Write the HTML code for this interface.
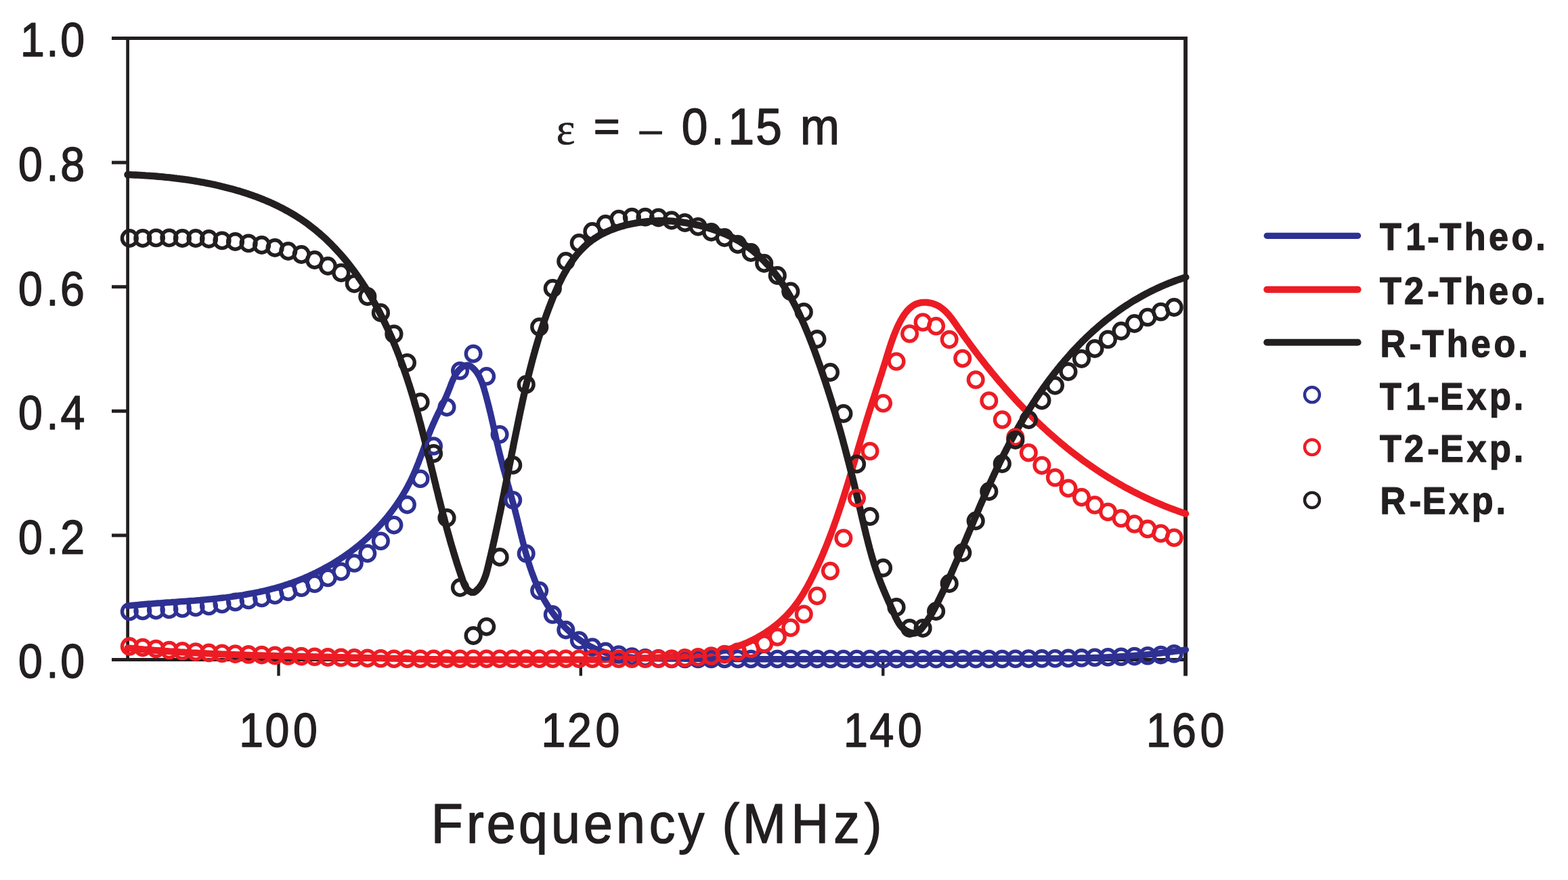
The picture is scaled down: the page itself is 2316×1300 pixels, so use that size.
<!DOCTYPE html>
<html lang="en">
<head>
<meta charset="utf-8">
<title>Frequency response</title>
<style>
html,body{margin:0;padding:0;background:#fff;}
body{width:2316px;height:1300px;overflow:hidden;}
svg{display:block;}
text{fill:#231f20;stroke:#231f20;stroke-linejoin:round;white-space:pre;text-rendering:geometricPrecision;}
.t{font-family:"Liberation Sans",sans-serif;}
.b{font-family:"Liberation Sans",sans-serif;font-weight:bold;}
.e{font-family:"Liberation Serif","DejaVu Serif",serif;}
</style>
</head>
<body>

<svg width="2316" height="1300" viewBox="0 0 2316 1300" role="img" aria-label="Transmission and reflection versus frequency">
<rect width="2316" height="1300" fill="#fff"/>
<g fill="none" stroke="#231f20" stroke-width="5.0"><path stroke-width="5" d="M165 56.5 H1753.8"/><path stroke-width="4.9" d="M165 974.5 H1753.8"/><path stroke-width="4.7" d="M188.6 54 V976.9"/><path stroke-width="5.9" d="M1751.1 54 V998.4"/><path d="M165 240.1 H188.5"/><path d="M165 423.7 H188.5"/><path d="M165 607.3 H188.5"/><path d="M165 790.9 H188.5"/><path stroke-width="4.4" d="M411.5 974.5 V998.4"/><path stroke-width="4.4" d="M857.8 974.5 V998.4"/><path stroke-width="4.4" d="M1304.3 974.5 V998.4"/></g>
<g fill="none" stroke-width="9.6" stroke-linecap="round" stroke-linejoin="round">
<path stroke="#2e3192" stroke-width="9.5" d="M188.4 895.0 L191.0 894.7 L193.6 894.5 L196.2 894.2 L198.8 893.9 L201.5 893.7 L204.1 893.5 L206.7 893.2 L209.4 893.0 L212.0 892.8 L214.7 892.5 L217.3 892.3 L220.0 892.1 L222.6 891.9 L225.3 891.7 L228.0 891.5 L230.7 891.3 L233.3 891.1 L236.0 890.9 L238.7 890.7 L241.4 890.5 L244.1 890.3 L246.8 890.1 L249.5 889.9 L252.2 889.8 L254.9 889.6 L257.6 889.4 L260.3 889.2 L263.1 889.0 L265.8 888.8 L268.5 888.6 L271.2 888.4 L273.9 888.2 L276.7 888.0 L279.4 887.8 L282.1 887.6 L284.8 887.4 L287.6 887.2 L290.3 886.9 L293.0 886.7 L295.8 886.5 L298.5 886.2 L301.2 886.0 L304.0 885.8 L306.7 885.5 L309.4 885.2 L312.1 885.0 L314.9 884.7 L317.6 884.4 L320.3 884.1 L323.0 883.8 L325.8 883.5 L328.5 883.2 L331.2 882.9 L333.9 882.6 L336.7 882.2 L339.4 881.9 L342.1 881.5 L344.8 881.1 L347.5 880.7 L350.2 880.3 L352.9 879.9 L355.6 879.5 L358.3 879.1 L361.0 878.6 L363.7 878.2 L366.4 877.7 L369.1 877.2 L371.7 876.7 L374.4 876.2 L377.1 875.7 L379.7 875.1 L382.4 874.6 L385.1 874.0 L387.7 873.4 L390.4 872.8 L393.0 872.2 L395.6 871.5 L398.3 870.9 L400.9 870.2 L403.5 869.5 L406.1 868.8 L408.7 868.1 L411.3 867.3 L413.9 866.6 L416.5 865.8 L419.1 865.0 L421.7 864.1 L424.2 863.3 L426.8 862.4 L429.4 861.6 L431.9 860.7 L434.4 859.7 L437.0 858.8 L439.5 857.8 L442.0 856.8 L444.5 855.8 L447.0 854.8 L449.5 853.8 L452.0 852.7 L454.5 851.7 L456.9 850.6 L459.4 849.4 L461.8 848.3 L464.2 847.1 L466.7 846.0 L469.1 844.8 L471.5 843.6 L473.9 842.3 L476.2 841.1 L478.6 839.8 L481.0 838.5 L483.3 837.2 L485.7 835.9 L488.0 834.6 L490.3 833.2 L492.6 831.8 L494.9 830.5 L497.2 829.0 L499.4 827.6 L501.7 826.2 L503.9 824.7 L506.2 823.2 L508.4 821.7 L510.6 820.2 L512.8 818.6 L514.9 817.1 L517.1 815.5 L519.3 813.9 L521.4 812.3 L523.5 810.7 L525.6 809.0 L527.7 807.4 L529.8 805.7 L531.8 804.0 L533.9 802.3 L535.9 800.5 L537.9 798.8 L539.9 797.0 L541.9 795.2 L543.9 793.4 L545.8 791.6 L547.8 789.8 L549.7 787.9 L551.6 786.0 L553.5 784.1 L555.3 782.2 L557.2 780.3 L559.0 778.4 L560.8 776.4 L562.6 774.5 L564.4 772.5 L566.2 770.5 L567.9 768.4 L569.7 766.4 L571.4 764.4 L573.1 762.3 L574.7 760.2 L576.4 758.1 L578.0 756.0 L579.6 753.8 L581.2 751.7 L582.8 749.5 L584.4 747.3 L585.9 745.1 L587.4 742.9 L588.9 740.7 L590.4 738.4 L591.8 736.2 L593.3 733.9 L594.7 731.6 L596.1 729.3 L597.4 727.0 L598.8 724.6 L600.1 722.3 L601.4 719.9 L602.7 717.5 L603.9 715.1 L605.2 712.7 L606.4 710.3 L607.6 707.8 L608.8 705.4 L609.9 702.9 L611.0 700.4 L612.1 697.9 L613.2 695.4 L614.3 692.8 L615.3 690.3 L616.3 687.7 L617.4 685.2 L618.4 682.6 L619.3 680.0 L620.3 677.5 L621.3 674.9 L622.3 672.3 L623.2 669.7 L624.2 667.1 L625.1 664.5 L626.1 661.9 L627.0 659.3 L627.9 656.7 L628.9 654.2 L629.8 651.6 L630.8 649.0 L631.8 646.4 L632.7 643.9 L633.7 641.3 L634.7 638.8 L635.7 636.3 L636.7 633.7 L637.8 631.2 L638.8 628.7 L639.9 626.3 L641.0 623.8 L642.1 621.4 L643.2 618.9 L644.3 616.5 L645.5 614.1 L646.6 611.7 L647.8 609.3 L649.0 606.9 L650.1 604.6 L651.3 602.2 L652.4 599.8 L653.6 597.4 L654.7 595.0 L655.9 592.7 L657.0 590.3 L658.1 587.9 L659.2 585.4 L660.2 583.0 L661.3 580.6 L662.3 578.1 L663.2 575.7 L664.2 573.2 L665.2 570.7 L666.1 568.1 L667.1 565.6 L668.2 563.0 L669.3 560.4 L670.6 557.9 L671.9 555.3 L673.3 552.8 L674.9 550.4 L676.6 548.2 L678.4 546.1 L680.4 544.1 L682.6 542.5 L685.0 541.0 L687.5 539.9 L690.1 539.4 L692.5 539.6 L694.8 540.7 L696.9 542.3 L698.9 544.0 L700.8 545.9 L702.5 547.8 L704.1 549.9 L705.5 552.1 L706.9 554.4 L708.2 556.7 L709.3 559.2 L710.5 561.7 L711.5 564.2 L712.5 566.8 L713.4 569.5 L714.2 572.1 L715.1 574.8 L715.8 577.5 L716.6 580.2 L717.4 582.9 L718.1 585.6 L718.8 588.2 L719.5 590.9 L720.2 593.6 L720.9 596.2 L721.6 598.9 L722.2 601.6 L722.9 604.2 L723.5 606.9 L724.2 609.5 L724.8 612.2 L725.4 614.8 L726.0 617.4 L726.6 620.1 L727.2 622.7 L727.8 625.3 L728.4 628.0 L729.0 630.6 L729.5 633.2 L730.1 635.8 L730.7 638.4 L731.3 641.0 L731.9 643.6 L732.4 646.3 L733.0 648.9 L733.6 651.5 L734.2 654.1 L734.8 656.7 L735.4 659.3 L736.0 661.9 L736.6 664.5 L737.3 667.1 L737.9 669.7 L738.5 672.3 L739.2 674.8 L739.8 677.4 L740.5 680.0 L741.2 682.6 L741.9 685.2 L742.5 687.8 L743.2 690.4 L743.9 693.0 L744.6 695.6 L745.4 698.2 L746.1 700.8 L746.8 703.4 L747.5 706.0 L748.2 708.6 L749.0 711.2 L749.7 713.8 L750.4 716.4 L751.1 719.0 L751.9 721.6 L752.6 724.2 L753.3 726.8 L754.1 729.4 L754.8 732.0 L755.5 734.6 L756.2 737.2 L756.9 739.8 L757.7 742.5 L758.4 745.1 L759.1 747.7 L759.8 750.3 L760.5 752.9 L761.1 755.6 L761.8 758.2 L762.5 760.8 L763.1 763.5 L763.8 766.1 L764.5 768.8 L765.1 771.4 L765.8 774.0 L766.4 776.7 L767.0 779.3 L767.7 782.0 L768.3 784.6 L769.0 787.3 L769.6 789.9 L770.3 792.5 L771.0 795.2 L771.6 797.8 L772.3 800.4 L773.0 803.1 L773.6 805.7 L774.3 808.3 L775.0 810.9 L775.7 813.6 L776.4 816.2 L777.2 818.8 L777.9 821.4 L778.7 824.0 L779.4 826.6 L780.2 829.2 L781.0 831.7 L781.8 834.3 L782.6 836.9 L783.5 839.4 L784.3 842.0 L785.2 844.5 L786.1 847.1 L787.1 849.6 L788.0 852.1 L789.0 854.6 L789.9 857.1 L791.0 859.6 L792.0 862.1 L793.1 864.6 L794.2 867.0 L795.3 869.5 L796.4 871.9 L797.6 874.4 L798.8 876.8 L800.0 879.2 L801.3 881.6 L802.6 883.9 L803.9 886.3 L805.3 888.7 L806.7 891.0 L808.1 893.3 L809.6 895.6 L811.1 897.9 L812.6 900.2 L814.2 902.4 L815.7 904.7 L817.4 906.9 L819.0 909.1 L820.7 911.2 L822.5 913.4 L824.2 915.5 L826.0 917.6 L827.8 919.7 L829.6 921.7 L831.5 923.7 L833.4 925.7 L835.3 927.6 L837.3 929.5 L839.3 931.4 L841.3 933.3 L843.3 935.1 L845.4 936.9 L847.5 938.6 L849.6 940.3 L851.7 942.0 L853.9 943.6 L856.0 945.1 L858.2 946.7 L860.5 948.2 L862.7 949.6 L865.0 951.0 L867.3 952.4 L869.6 953.7 L871.9 954.9 L874.3 956.1 L876.7 957.3 L879.1 958.4 L881.5 959.4 L883.9 960.4 L886.4 961.4 L888.8 962.3 L891.3 963.1 L893.8 963.9 L896.3 964.6 L898.9 965.4 L901.4 966.0 L904.0 966.6 L906.6 967.2 L909.2 967.8 L911.8 968.3 L914.4 968.7 L917.0 969.2 L919.6 969.6 L922.3 969.9 L924.9 970.3 L927.6 970.6 L930.3 970.9 L933.0 971.1 L935.7 971.4 L938.4 971.6 L941.1 971.8 L943.8 971.9 L946.5 972.1 L949.2 972.2 L952.0 972.3 L954.7 972.4 L957.5 972.5 L960.2 972.6 L962.9 972.6 L965.7 972.7 L968.4 972.7 L971.2 972.8 L973.9 972.8 L976.7 972.8 L979.4 972.9 L982.2 972.9 L984.9 972.9 L987.7 972.9 L990.4 973.0 L993.2 973.0 L995.9 973.0 L998.7 973.0 L1001.4 973.1 L1004.2 973.1 L1006.9 973.1 L1009.6 973.1 L1012.4 973.2 L1015.1 973.2 L1017.9 973.2 L1020.6 973.2 L1023.3 973.3 L1026.1 973.3 L1028.8 973.3 L1031.5 973.3 L1034.3 973.3 L1037.0 973.4 L1039.7 973.4 L1042.5 973.4 L1045.2 973.4 L1047.9 973.4 L1050.7 973.4 L1053.4 973.5 L1056.1 973.5 L1058.8 973.5 L1061.6 973.5 L1064.3 973.5 L1067.0 973.5 L1069.7 973.5 L1072.4 973.6 L1075.2 973.6 L1077.9 973.6 L1080.6 973.6 L1083.3 973.6 L1086.0 973.6 L1088.8 973.6 L1091.5 973.6 L1094.2 973.6 L1096.9 973.7 L1099.6 973.7 L1102.3 973.7 L1105.1 973.7 L1107.8 973.7 L1110.5 973.7 L1113.2 973.7 L1115.9 973.7 L1118.6 973.7 L1121.3 973.7 L1124.0 973.7 L1126.7 973.7 L1129.5 973.7 L1132.2 973.7 L1134.9 973.7 L1137.6 973.8 L1140.3 973.8 L1143.0 973.8 L1145.7 973.8 L1148.4 973.8 L1151.1 973.8 L1153.8 973.8 L1156.5 973.8 L1159.2 973.8 L1161.9 973.8 L1164.6 973.8 L1167.3 973.8 L1170.0 973.8 L1172.7 973.8 L1175.4 973.8 L1178.1 973.8 L1180.8 973.8 L1183.5 973.8 L1186.2 973.8 L1188.9 973.8 L1191.6 973.8 L1194.3 973.8 L1197.0 973.8 L1199.7 973.8 L1202.4 973.8 L1205.1 973.8 L1207.8 973.8 L1210.5 973.8 L1213.2 973.8 L1215.9 973.8 L1218.6 973.8 L1221.3 973.7 L1224.0 973.7 L1226.7 973.7 L1229.4 973.7 L1232.0 973.7 L1234.7 973.7 L1237.4 973.7 L1240.1 973.7 L1242.8 973.7 L1245.5 973.7 L1248.2 973.7 L1250.9 973.7 L1253.6 973.7 L1256.3 973.7 L1259.0 973.7 L1261.7 973.7 L1264.3 973.7 L1267.0 973.7 L1269.7 973.7 L1272.4 973.6 L1275.1 973.6 L1277.8 973.6 L1280.5 973.6 L1283.2 973.6 L1285.9 973.6 L1288.6 973.6 L1291.3 973.6 L1293.9 973.6 L1296.6 973.6 L1299.3 973.6 L1302.0 973.6 L1304.7 973.5 L1307.4 973.5 L1310.1 973.5 L1312.8 973.5 L1315.5 973.5 L1318.1 973.5 L1320.8 973.5 L1323.5 973.5 L1326.2 973.5 L1328.9 973.5 L1331.6 973.5 L1334.3 973.5 L1337.0 973.4 L1339.7 973.4 L1342.4 973.4 L1345.0 973.4 L1347.7 973.4 L1350.4 973.4 L1353.1 973.4 L1355.8 973.4 L1358.5 973.4 L1361.2 973.4 L1363.9 973.3 L1366.6 973.3 L1369.3 973.3 L1372.0 973.3 L1374.6 973.3 L1377.3 973.3 L1380.0 973.3 L1382.7 973.3 L1385.4 973.3 L1388.1 973.3 L1390.8 973.3 L1393.5 973.2 L1396.2 973.2 L1398.9 973.2 L1401.6 973.2 L1404.3 973.2 L1407.0 973.2 L1409.7 973.2 L1412.4 973.2 L1415.0 973.2 L1417.7 973.2 L1420.4 973.2 L1423.1 973.1 L1425.8 973.1 L1428.5 973.1 L1431.2 973.1 L1433.9 973.1 L1436.6 973.1 L1439.3 973.1 L1442.0 973.1 L1444.7 973.1 L1447.4 973.1 L1450.1 973.1 L1452.8 973.0 L1455.5 973.0 L1458.2 973.0 L1460.9 973.0 L1463.6 973.0 L1466.3 973.0 L1469.0 973.0 L1471.7 973.0 L1474.4 973.0 L1477.1 973.0 L1479.8 973.0 L1482.6 973.0 L1485.3 973.0 L1488.0 973.0 L1490.7 972.9 L1493.4 972.9 L1496.1 972.9 L1498.8 972.9 L1501.5 972.9 L1504.2 972.9 L1506.9 972.9 L1509.6 972.9 L1512.3 972.9 L1515.1 972.9 L1517.8 972.9 L1520.5 972.9 L1523.2 972.9 L1525.9 972.9 L1528.6 972.9 L1531.3 972.8 L1534.1 972.8 L1536.8 972.8 L1539.5 972.8 L1542.2 972.8 L1544.9 972.8 L1547.6 972.8 L1550.3 972.7 L1553.1 972.7 L1555.8 972.7 L1558.5 972.7 L1561.2 972.7 L1563.9 972.6 L1566.6 972.6 L1569.3 972.6 L1572.1 972.5 L1574.8 972.5 L1577.5 972.4 L1580.2 972.4 L1582.9 972.4 L1585.6 972.3 L1588.4 972.3 L1591.1 972.2 L1593.8 972.2 L1596.5 972.1 L1599.2 972.0 L1601.9 972.0 L1604.6 971.9 L1607.4 971.8 L1610.1 971.7 L1612.8 971.7 L1615.5 971.6 L1618.2 971.5 L1620.9 971.4 L1623.6 971.3 L1626.3 971.2 L1629.0 971.1 L1631.8 971.0 L1634.5 970.9 L1637.2 970.7 L1639.9 970.6 L1642.6 970.5 L1645.3 970.3 L1648.0 970.2 L1650.7 970.1 L1653.4 969.9 L1656.1 969.7 L1658.8 969.6 L1661.5 969.4 L1664.2 969.2 L1666.9 969.1 L1669.6 968.9 L1672.3 968.7 L1675.0 968.5 L1677.7 968.3 L1680.4 968.1 L1683.1 967.9 L1685.8 967.6 L1688.5 967.4 L1691.2 967.2 L1693.9 966.9 L1696.6 966.7 L1699.2 966.4 L1701.9 966.2 L1704.6 965.9 L1707.3 965.6 L1710.0 965.3 L1712.7 965.0 L1715.3 964.7 L1718.0 964.4 L1720.7 964.1 L1723.4 963.8 L1726.1 963.5 L1728.7 963.1 L1731.4 962.8 L1734.1 962.4 L1736.7 962.1 L1739.4 961.7 L1742.1 961.3 L1744.7 960.9 L1747.4 960.5 L1750.1 960.1 L1751.4 959.9"/>
<path stroke="#ed1c24" stroke-width="10" d="M188.4 957.3 L191.1 957.6 L193.8 957.8 L196.4 958.0 L199.1 958.3 L201.8 958.5 L204.5 958.8 L207.2 959.0 L209.8 959.2 L212.5 959.5 L215.2 959.7 L217.9 959.9 L220.6 960.1 L223.2 960.3 L225.9 960.5 L228.6 960.7 L231.3 960.9 L234.0 961.1 L236.6 961.3 L239.3 961.5 L242.0 961.7 L244.7 961.9 L247.3 962.1 L250.0 962.3 L252.7 962.4 L255.4 962.6 L258.1 962.8 L260.7 963.0 L263.4 963.1 L266.1 963.3 L268.8 963.4 L271.5 963.6 L274.1 963.8 L276.8 963.9 L279.5 964.1 L282.2 964.2 L284.9 964.4 L287.5 964.5 L290.2 964.6 L292.9 964.8 L295.6 964.9 L298.2 965.0 L300.9 965.2 L303.6 965.3 L306.3 965.4 L309.0 965.6 L311.6 965.7 L314.3 965.8 L317.0 965.9 L319.7 966.0 L322.4 966.1 L325.0 966.2 L327.7 966.4 L330.4 966.5 L333.1 966.6 L335.8 966.7 L338.4 966.8 L341.1 966.9 L343.8 967.0 L346.5 967.1 L349.1 967.2 L351.8 967.3 L354.5 967.3 L357.2 967.4 L359.9 967.5 L362.5 967.6 L365.2 967.7 L367.9 967.8 L370.6 967.9 L373.3 967.9 L375.9 968.0 L378.6 968.1 L381.3 968.2 L384.0 968.3 L386.7 968.3 L389.3 968.4 L392.0 968.5 L394.7 968.6 L397.4 968.6 L400.1 968.7 L402.7 968.8 L405.4 968.8 L408.1 968.9 L410.8 969.0 L413.5 969.0 L416.1 969.1 L418.8 969.2 L421.5 969.2 L424.2 969.3 L426.9 969.3 L429.5 969.4 L432.2 969.5 L434.9 969.5 L437.6 969.6 L440.3 969.6 L443.0 969.7 L445.6 969.8 L448.3 969.8 L451.0 969.9 L453.7 969.9 L456.4 970.0 L459.0 970.0 L461.7 970.1 L464.4 970.2 L467.1 970.2 L469.8 970.3 L472.5 970.3 L475.1 970.4 L477.8 970.4 L480.5 970.5 L483.2 970.5 L485.9 970.6 L488.6 970.7 L491.2 970.7 L493.9 970.8 L496.6 970.8 L499.3 970.9 L502.0 970.9 L504.7 971.0 L507.3 971.1 L510.0 971.1 L512.7 971.2 L515.4 971.2 L518.1 971.3 L520.8 971.4 L523.5 971.4 L526.1 971.5 L528.8 971.5 L531.5 971.6 L534.2 971.7 L536.9 971.7 L539.6 971.8 L542.3 971.9 L544.9 971.9 L547.6 972.0 L550.3 972.0 L553.0 972.1 L555.7 972.2 L558.4 972.2 L561.1 972.3 L563.7 972.3 L566.4 972.4 L569.1 972.5 L571.8 972.5 L574.5 972.6 L577.2 972.7 L579.9 972.7 L582.5 972.8 L585.2 972.8 L587.9 972.9 L590.6 973.0 L593.3 973.0 L596.0 973.1 L598.7 973.1 L601.4 973.2 L604.0 973.3 L606.7 973.3 L609.4 973.4 L612.1 973.4 L614.8 973.5 L617.5 973.6 L620.2 973.6 L622.9 973.7 L625.5 973.7 L628.2 973.8 L630.9 973.8 L633.6 973.9 L636.3 973.9 L639.0 974.0 L641.7 974.1 L644.4 974.1 L647.0 974.2 L649.7 974.2 L652.4 974.3 L655.1 974.3 L657.8 974.4 L660.5 974.4 L663.2 974.5 L665.9 974.5 L668.5 974.5 L671.2 974.5 L673.9 974.5 L676.6 974.5 L679.3 974.5 L682.0 974.5 L684.7 974.5 L687.4 974.5 L690.1 974.5 L692.7 974.5 L695.4 974.5 L698.1 974.5 L700.8 974.5 L703.5 974.5 L706.2 974.5 L708.9 974.5 L711.6 974.5 L714.2 974.5 L716.9 974.5 L719.6 974.5 L722.3 974.5 L725.0 974.5 L727.7 974.5 L730.4 974.5 L733.0 974.5 L735.7 974.5 L738.4 974.5 L741.1 974.5 L743.8 974.5 L746.5 974.5 L749.2 974.5 L751.9 974.5 L754.5 974.5 L757.2 974.5 L759.9 974.5 L762.6 974.5 L765.3 974.5 L768.0 974.5 L770.7 974.5 L773.3 974.5 L776.0 974.5 L778.7 974.5 L781.4 974.5 L784.1 974.5 L786.8 974.5 L789.5 974.5 L792.1 974.5 L794.8 974.5 L797.5 974.5 L800.2 974.5 L802.9 974.5 L805.6 974.5 L808.3 974.5 L810.9 974.5 L813.6 974.5 L816.3 974.5 L819.0 974.5 L821.7 974.5 L824.4 974.5 L827.0 974.5 L829.7 974.5 L832.4 974.5 L835.1 974.5 L837.8 974.5 L840.5 974.5 L843.1 974.5 L845.8 974.5 L848.5 974.5 L851.2 974.5 L853.9 974.5 L856.5 974.5 L859.2 974.5 L861.9 974.5 L864.6 974.5 L867.3 974.5 L870.0 974.5 L872.6 974.5 L875.3 974.5 L878.0 974.5 L880.7 974.5 L883.4 974.5 L886.0 974.5 L888.7 974.5 L891.4 974.5 L894.1 974.4 L896.8 974.3 L899.4 974.3 L902.1 974.2 L904.8 974.1 L907.5 974.0 L910.1 973.9 L912.8 973.8 L915.5 973.8 L918.2 973.7 L920.9 973.6 L923.5 973.5 L926.2 973.4 L928.9 973.3 L931.6 973.2 L934.2 973.1 L936.9 973.0 L939.6 972.9 L942.3 972.8 L944.9 972.6 L947.6 972.5 L950.3 972.4 L953.0 972.3 L955.6 972.2 L958.3 972.0 L961.0 971.9 L963.7 971.8 L966.3 971.6 L969.0 971.5 L971.7 971.4 L974.3 971.2 L977.0 971.1 L979.7 970.9 L982.4 970.8 L985.0 970.6 L987.7 970.5 L990.4 970.3 L993.0 970.2 L995.7 970.0 L998.4 969.8 L1001.1 969.7 L1003.7 969.5 L1006.4 969.3 L1009.1 969.1 L1011.7 968.9 L1014.4 968.8 L1017.1 968.5 L1019.7 968.3 L1022.4 968.1 L1025.0 967.9 L1027.7 967.6 L1030.4 967.3 L1033.0 967.1 L1035.7 966.8 L1038.3 966.4 L1041.0 966.1 L1043.6 965.8 L1046.2 965.4 L1048.9 965.0 L1051.5 964.5 L1054.1 964.1 L1056.7 963.6 L1059.4 963.1 L1062.0 962.6 L1064.6 962.0 L1067.2 961.4 L1069.8 960.8 L1072.4 960.2 L1075.0 959.5 L1077.6 958.8 L1080.1 958.0 L1082.7 957.2 L1085.3 956.4 L1087.8 955.5 L1090.4 954.6 L1092.9 953.7 L1095.4 952.7 L1098.0 951.7 L1100.5 950.6 L1103.0 949.6 L1105.4 948.4 L1107.9 947.3 L1110.4 946.1 L1112.8 944.9 L1115.2 943.6 L1117.6 942.4 L1120.0 941.0 L1122.4 939.7 L1124.7 938.3 L1127.1 936.9 L1129.4 935.4 L1131.7 934.0 L1133.9 932.5 L1136.2 930.9 L1138.4 929.3 L1140.6 927.7 L1142.7 926.1 L1144.9 924.4 L1147.0 922.8 L1149.1 921.0 L1151.1 919.3 L1153.2 917.5 L1155.2 915.7 L1157.1 913.8 L1159.1 912.0 L1161.0 910.1 L1162.8 908.2 L1164.7 906.2 L1166.5 904.2 L1168.2 902.2 L1170.0 900.2 L1171.7 898.1 L1173.3 896.0 L1174.9 893.9 L1176.5 891.8 L1178.1 889.7 L1179.6 887.5 L1181.1 885.3 L1182.6 883.1 L1184.0 880.8 L1185.4 878.6 L1186.8 876.3 L1188.2 874.0 L1189.5 871.7 L1190.9 869.4 L1192.2 867.1 L1193.5 864.7 L1194.7 862.4 L1196.0 860.0 L1197.2 857.7 L1198.4 855.3 L1199.6 852.9 L1200.8 850.5 L1202.0 848.1 L1203.1 845.7 L1204.3 843.3 L1205.4 840.9 L1206.6 838.5 L1207.7 836.0 L1208.8 833.6 L1209.9 831.2 L1211.0 828.7 L1212.1 826.3 L1213.2 823.8 L1214.2 821.4 L1215.3 818.9 L1216.3 816.4 L1217.3 814.0 L1218.4 811.5 L1219.4 809.0 L1220.4 806.5 L1221.4 804.1 L1222.4 801.6 L1223.3 799.1 L1224.3 796.6 L1225.3 794.1 L1226.2 791.6 L1227.2 789.1 L1228.1 786.5 L1229.1 784.0 L1230.0 781.5 L1230.9 779.0 L1231.8 776.5 L1232.7 773.9 L1233.6 771.4 L1234.5 768.9 L1235.4 766.3 L1236.3 763.8 L1237.1 761.3 L1238.0 758.7 L1238.9 756.2 L1239.7 753.6 L1240.6 751.1 L1241.4 748.5 L1242.3 745.9 L1243.1 743.4 L1243.9 740.8 L1244.8 738.3 L1245.6 735.7 L1246.4 733.1 L1247.2 730.6 L1248.0 728.0 L1248.8 725.4 L1249.6 722.9 L1250.4 720.3 L1251.2 717.7 L1252.0 715.1 L1252.8 712.6 L1253.6 710.0 L1254.4 707.4 L1255.1 704.8 L1255.9 702.2 L1256.7 699.7 L1257.5 697.1 L1258.2 694.5 L1259.0 691.9 L1259.8 689.3 L1260.5 686.7 L1261.3 684.2 L1262.1 681.6 L1262.8 679.0 L1263.6 676.4 L1264.3 673.8 L1265.1 671.2 L1265.9 668.7 L1266.6 666.1 L1267.4 663.5 L1268.1 660.9 L1268.9 658.3 L1269.7 655.8 L1270.4 653.2 L1271.2 650.6 L1272.0 648.0 L1272.7 645.4 L1273.5 642.9 L1274.3 640.3 L1275.0 637.7 L1275.8 635.2 L1276.6 632.6 L1277.3 630.0 L1278.1 627.5 L1278.9 624.9 L1279.7 622.3 L1280.4 619.8 L1281.2 617.2 L1282.0 614.7 L1282.8 612.1 L1283.6 609.6 L1284.4 607.0 L1285.2 604.5 L1286.0 601.9 L1286.8 599.4 L1287.6 596.8 L1288.4 594.3 L1289.2 591.7 L1290.0 589.2 L1290.9 586.7 L1291.7 584.1 L1292.5 581.6 L1293.3 579.1 L1294.1 576.5 L1294.9 574.0 L1295.8 571.4 L1296.6 568.9 L1297.4 566.4 L1298.2 563.8 L1299.0 561.3 L1299.8 558.8 L1300.6 556.2 L1301.5 553.7 L1302.3 551.2 L1303.1 548.6 L1303.9 546.1 L1304.7 543.5 L1305.5 541.0 L1306.3 538.5 L1307.1 535.9 L1307.9 533.4 L1308.7 530.8 L1309.4 528.3 L1310.2 525.7 L1311.0 523.2 L1311.8 520.6 L1312.6 518.0 L1313.4 515.5 L1314.2 512.9 L1315.1 510.3 L1315.9 507.7 L1316.8 505.2 L1317.7 502.6 L1318.7 500.0 L1319.6 497.4 L1320.6 494.8 L1321.7 492.1 L1322.7 489.5 L1323.9 486.9 L1325.0 484.2 L1326.2 481.6 L1327.5 479.0 L1328.8 476.3 L1330.2 473.7 L1331.6 471.2 L1333.1 468.7 L1334.7 466.2 L1336.3 463.9 L1338.0 461.6 L1339.7 459.5 L1341.6 457.5 L1343.5 455.6 L1345.5 453.9 L1347.5 452.3 L1349.7 450.9 L1351.9 449.7 L1354.2 448.7 L1356.6 447.9 L1359.1 447.3 L1361.6 446.9 L1364.2 446.7 L1366.7 446.7 L1369.3 446.8 L1371.9 447.2 L1374.5 447.6 L1377.0 448.3 L1379.5 449.1 L1381.9 450.0 L1384.3 451.1 L1386.6 452.3 L1388.8 453.7 L1390.9 455.2 L1392.9 456.8 L1394.9 458.5 L1396.8 460.2 L1398.6 462.1 L1400.4 464.1 L1402.1 466.1 L1403.8 468.2 L1405.5 470.3 L1407.1 472.5 L1408.7 474.7 L1410.3 477.0 L1411.9 479.2 L1413.4 481.5 L1415.0 483.8 L1416.6 486.0 L1418.2 488.3 L1419.8 490.5 L1421.3 492.8 L1422.9 495.0 L1424.5 497.2 L1426.1 499.5 L1427.7 501.7 L1429.4 503.9 L1431.0 506.1 L1432.6 508.4 L1434.2 510.6 L1435.9 512.8 L1437.5 515.0 L1439.1 517.2 L1440.8 519.3 L1442.4 521.5 L1444.1 523.7 L1445.7 525.9 L1447.4 528.0 L1449.1 530.2 L1450.8 532.3 L1452.4 534.5 L1454.1 536.6 L1455.8 538.8 L1457.5 540.9 L1459.2 543.0 L1460.9 545.1 L1462.6 547.2 L1464.3 549.4 L1466.0 551.5 L1467.8 553.6 L1469.5 555.6 L1471.2 557.7 L1473.0 559.8 L1474.7 561.9 L1476.5 563.9 L1478.2 566.0 L1480.0 568.0 L1481.8 570.1 L1483.5 572.1 L1485.3 574.2 L1487.1 576.2 L1488.9 578.2 L1490.7 580.2 L1492.5 582.2 L1494.3 584.2 L1496.1 586.2 L1497.9 588.2 L1499.7 590.2 L1501.5 592.1 L1503.4 594.1 L1505.2 596.1 L1507.1 598.0 L1508.9 599.9 L1510.8 601.9 L1512.6 603.8 L1514.5 605.7 L1516.4 607.6 L1518.2 609.5 L1520.1 611.4 L1522.0 613.3 L1523.9 615.2 L1525.8 617.1 L1527.7 619.0 L1529.6 620.8 L1531.5 622.7 L1533.5 624.5 L1535.4 626.4 L1537.3 628.2 L1539.3 630.0 L1541.2 631.8 L1543.2 633.6 L1545.2 635.4 L1547.1 637.2 L1549.1 639.0 L1551.1 640.8 L1553.1 642.5 L1555.1 644.3 L1557.1 646.0 L1559.1 647.8 L1561.1 649.5 L1563.1 651.2 L1565.1 652.9 L1567.1 654.7 L1569.2 656.3 L1571.2 658.0 L1573.3 659.7 L1575.3 661.4 L1577.4 663.1 L1579.5 664.7 L1581.5 666.4 L1583.6 668.0 L1585.7 669.6 L1587.8 671.2 L1589.9 672.8 L1592.0 674.4 L1594.2 676.0 L1596.3 677.6 L1598.4 679.2 L1600.5 680.8 L1602.7 682.3 L1604.8 683.8 L1607.0 685.4 L1609.2 686.9 L1611.3 688.4 L1613.5 689.9 L1615.7 691.4 L1617.9 692.9 L1620.1 694.4 L1622.3 695.9 L1624.5 697.3 L1626.7 698.8 L1629.0 700.2 L1631.2 701.6 L1633.4 703.1 L1635.7 704.5 L1638.0 705.9 L1640.2 707.2 L1642.5 708.6 L1644.8 710.0 L1647.1 711.3 L1649.4 712.7 L1651.7 714.0 L1654.0 715.4 L1656.3 716.7 L1658.6 718.0 L1660.9 719.3 L1663.3 720.6 L1665.6 721.8 L1668.0 723.1 L1670.3 724.3 L1672.7 725.6 L1675.1 726.8 L1677.5 728.0 L1679.9 729.2 L1682.3 730.4 L1684.7 731.6 L1687.1 732.8 L1689.5 734.0 L1691.9 735.1 L1694.4 736.3 L1696.8 737.4 L1699.3 738.5 L1701.8 739.6 L1704.2 740.7 L1706.7 741.8 L1709.2 742.9 L1711.7 743.9 L1714.2 745.0 L1716.7 746.0 L1719.2 747.1 L1721.7 748.1 L1724.3 749.1 L1726.8 750.1 L1729.4 751.1 L1731.9 752.0 L1734.5 753.0 L1737.1 753.9 L1739.7 754.9 L1742.3 755.8 L1744.9 756.7 L1747.5 757.6 L1750.1 758.5 L1751.4 758.9"/>
<path stroke="#231f20" stroke-width="10.3" d="M188.4 258.1 L192.2 258.2 L196.0 258.4 L199.9 258.5 L203.8 258.7 L207.7 258.9 L211.6 259.1 L215.5 259.4 L219.4 259.6 L223.3 259.9 L227.3 260.2 L231.3 260.5 L235.2 260.8 L239.2 261.2 L241.2 261.4 L243.2 261.6 L245.2 261.8 L247.2 262.0 L249.2 262.2 L251.2 262.4 L253.2 262.6 L255.2 262.8 L257.3 263.1 L259.3 263.3 L261.3 263.6 L263.3 263.8 L265.3 264.1 L267.3 264.3 L269.3 264.6 L271.4 264.9 L273.4 265.2 L275.4 265.4 L277.4 265.7 L279.4 266.0 L281.4 266.3 L283.5 266.7 L285.5 267.0 L287.5 267.3 L289.5 267.6 L291.5 268.0 L293.6 268.3 L295.6 268.7 L297.6 269.1 L299.6 269.4 L301.6 269.8 L303.6 270.2 L305.7 270.6 L307.7 271.0 L309.7 271.4 L311.7 271.8 L313.7 272.2 L315.7 272.6 L317.7 273.1 L319.7 273.5 L321.7 274.0 L323.7 274.4 L325.7 274.9 L327.7 275.4 L329.7 275.9 L331.7 276.4 L333.7 276.9 L335.7 277.4 L337.6 277.9 L339.6 278.4 L341.6 278.9 L343.6 279.5 L345.5 280.0 L347.5 280.6 L349.5 281.2 L351.4 281.7 L353.4 282.3 L355.3 282.9 L357.3 283.5 L359.2 284.1 L361.2 284.7 L363.1 285.4 L365.1 286.0 L367.0 286.6 L368.9 287.3 L370.8 288.0 L372.8 288.6 L374.7 289.3 L376.6 290.0 L378.5 290.7 L380.4 291.4 L382.3 292.2 L384.2 292.9 L386.0 293.6 L387.9 294.4 L389.8 295.1 L391.6 295.9 L393.5 296.7 L395.4 297.5 L397.2 298.3 L399.1 299.1 L400.9 299.9 L402.7 300.7 L404.5 301.6 L406.4 302.4 L408.2 303.3 L410.0 304.2 L411.8 305.1 L413.6 305.9 L415.4 306.9 L418.9 308.7 L422.4 310.6 L425.9 312.5 L429.4 314.5 L432.8 316.5 L436.2 318.5 L439.5 320.7 L442.9 322.8 L446.2 325.0 L449.4 327.2 L452.7 329.5 L455.8 331.9 L459.0 334.3 L462.1 336.7 L465.2 339.1 L468.2 341.7 L471.3 344.2 L474.2 346.8 L477.2 349.4 L480.1 352.1 L483.0 354.8 L485.8 357.6 L488.7 360.4 L491.4 363.2 L494.2 366.1 L496.9 369.0 L499.6 371.9 L502.3 374.8 L504.9 377.8 L507.5 380.9 L510.0 383.9 L512.6 387.0 L515.1 390.2 L516.3 391.7 L517.5 393.3 L518.8 394.9 L520.0 396.5 L521.2 398.1 L522.4 399.7 L523.6 401.3 L524.8 403.0 L525.9 404.6 L527.1 406.2 L528.3 407.9 L529.4 409.5 L530.6 411.2 L531.7 412.8 L532.8 414.5 L534.0 416.2 L535.1 417.9 L536.2 419.5 L537.3 421.2 L538.4 422.9 L539.5 424.6 L540.6 426.3 L541.6 428.1 L542.7 429.8 L543.8 431.5 L544.8 433.2 L545.9 435.0 L546.9 436.7 L547.9 438.5 L549.0 440.2 L550.0 442.0 L551.0 443.7 L552.0 445.5 L553.0 447.3 L554.0 449.0 L555.0 450.8 L555.9 452.6 L556.9 454.4 L557.9 456.2 L558.8 458.0 L559.8 459.8 L560.7 461.6 L561.6 463.4 L562.6 465.2 L563.5 467.0 L564.4 468.8 L565.3 470.6 L566.2 472.4 L567.1 474.3 L568.0 476.1 L568.9 477.9 L569.8 479.8 L570.6 481.6 L571.5 483.4 L572.4 485.3 L573.2 487.1 L574.0 489.0 L574.9 490.8 L575.7 492.7 L576.5 494.5 L577.4 496.4 L578.2 498.3 L579.0 500.1 L579.8 502.0 L580.6 503.8 L581.4 505.7 L582.1 507.6 L582.9 509.4 L583.7 511.3 L584.4 513.2 L585.2 515.1 L586.0 516.9 L586.7 518.8 L587.4 520.7 L588.2 522.6 L588.9 524.4 L589.6 526.3 L590.3 528.2 L591.0 530.1 L591.7 532.0 L592.4 533.9 L593.1 535.7 L593.8 537.6 L594.5 539.5 L595.2 541.4 L595.9 543.3 L596.5 545.2 L597.2 547.1 L597.9 549.0 L598.5 550.9 L599.2 552.8 L599.8 554.6 L600.4 556.5 L601.1 558.4 L601.7 560.3 L602.9 564.1 L604.2 567.9 L605.4 571.8 L606.6 575.6 L607.8 579.4 L608.9 583.2 L610.1 587.0 L611.2 590.8 L612.3 594.7 L613.4 598.5 L614.5 602.3 L615.6 606.2 L616.7 610.0 L617.8 613.9 L618.8 617.7 L619.8 621.6 L620.9 625.4 L621.9 629.3 L622.9 633.2 L623.9 637.0 L624.9 640.9 L625.9 644.8 L626.4 646.7 L626.9 648.7 L627.4 650.6 L627.9 652.5 L628.4 654.5 L628.8 656.4 L629.3 658.4 L629.8 660.3 L630.3 662.3 L630.8 664.2 L631.3 666.1 L631.7 668.1 L632.2 670.0 L632.7 672.0 L633.2 673.9 L633.7 675.9 L634.1 677.8 L634.6 679.8 L635.1 681.7 L635.6 683.7 L636.0 685.6 L636.5 687.6 L637.0 689.6 L637.5 691.5 L637.9 693.5 L638.4 695.4 L638.9 697.4 L639.4 699.3 L639.8 701.3 L640.3 703.3 L640.8 705.2 L641.3 707.2 L641.7 709.1 L642.2 711.1 L642.7 713.1 L643.2 715.0 L643.7 717.0 L644.1 718.9 L644.6 720.9 L645.1 722.9 L645.6 724.8 L646.1 726.8 L646.6 728.8 L647.1 730.7 L647.5 732.7 L648.0 734.7 L648.5 736.7 L649.0 738.6 L649.5 740.6 L650.0 742.6 L650.5 744.5 L651.0 746.5 L651.5 748.5 L652.0 750.4 L652.5 752.4 L653.0 754.4 L653.5 756.3 L654.0 758.3 L654.5 760.3 L655.1 762.2 L655.6 764.2 L656.1 766.1 L656.6 768.1 L657.1 770.0 L657.6 772.0 L658.1 773.9 L658.7 775.9 L659.2 777.8 L659.7 779.8 L660.2 781.7 L660.8 783.6 L661.8 787.5 L662.9 791.3 L664.0 795.1 L665.0 798.9 L666.1 802.7 L667.2 806.4 L668.3 810.1 L669.4 813.8 L670.5 817.5 L671.6 821.2 L672.8 824.9 L673.9 828.6 L675.1 832.3 L676.3 836.0 L677.5 839.8 L678.2 841.7 L678.8 843.6 L679.5 845.6 L680.1 847.5 L680.8 849.5 L681.5 851.5 L682.2 853.5 L682.9 855.6 L683.6 857.7 L684.3 859.7 L685.1 861.8 L686.0 863.8 L686.9 865.7 L687.9 867.6 L689.1 869.3 L690.3 870.9 L693.3 873.5 L696.7 875.2 L700.3 874.9 L703.5 872.7 L706.3 870.0 L708.8 867.0 L711.0 863.9 L713.0 860.5 L714.7 857.0 L716.1 853.4 L717.5 849.6 L718.1 847.7 L718.6 845.7 L719.2 843.8 L719.7 841.8 L720.2 839.8 L720.7 837.8 L721.2 835.8 L721.7 833.8 L722.2 831.8 L722.6 829.8 L723.1 827.8 L723.6 825.8 L724.0 823.9 L724.5 821.9 L725.0 819.9 L725.4 817.9 L725.9 815.9 L726.3 813.9 L726.8 811.9 L727.3 809.9 L727.7 807.9 L728.1 805.9 L728.6 803.9 L729.0 802.0 L729.5 800.0 L729.9 798.0 L730.4 796.0 L730.8 794.0 L731.2 792.0 L731.7 790.0 L732.1 788.1 L732.5 786.1 L732.9 784.1 L733.4 782.1 L733.8 780.1 L734.2 778.2 L734.6 776.2 L735.1 774.2 L735.5 772.2 L735.9 770.2 L736.3 768.3 L736.7 766.3 L737.1 764.3 L737.5 762.3 L738.0 760.3 L738.4 758.4 L738.8 756.4 L739.2 754.4 L739.6 752.4 L740.0 750.5 L740.4 748.5 L740.8 746.5 L741.2 744.5 L741.6 742.6 L742.0 740.6 L742.4 738.6 L742.8 736.7 L743.2 734.7 L743.6 732.7 L744.0 730.7 L744.4 728.8 L744.8 726.8 L745.1 724.8 L745.5 722.9 L745.9 720.9 L746.3 718.9 L746.7 717.0 L747.1 715.0 L747.5 713.0 L747.9 711.1 L748.3 709.1 L748.7 707.1 L749.0 705.2 L749.4 703.2 L749.8 701.2 L750.2 699.3 L750.6 697.3 L751.0 695.3 L751.4 693.4 L751.8 691.4 L752.1 689.4 L752.5 687.5 L752.9 685.5 L753.3 683.6 L753.7 681.6 L754.5 677.7 L755.2 673.7 L756.0 669.8 L756.8 665.9 L757.6 662.0 L758.3 658.1 L759.1 654.1 L759.9 650.2 L760.7 646.3 L761.5 642.4 L762.3 638.5 L763.1 634.6 L763.9 630.7 L764.7 626.7 L765.5 622.8 L766.3 618.9 L767.1 615.0 L767.9 611.1 L768.7 607.2 L769.6 603.3 L770.4 599.4 L771.3 595.4 L772.1 591.5 L772.5 589.6 L773.0 587.6 L773.4 585.7 L773.8 583.7 L774.3 581.8 L774.7 579.8 L775.1 577.9 L775.6 575.9 L776.0 574.0 L776.5 572.0 L776.9 570.1 L777.4 568.1 L777.9 566.2 L778.3 564.2 L778.8 562.3 L779.2 560.3 L779.7 558.4 L780.2 556.4 L780.7 554.5 L781.1 552.5 L781.6 550.6 L782.1 548.6 L782.6 546.7 L783.1 544.8 L783.6 542.8 L784.1 540.9 L784.6 538.9 L785.1 537.0 L785.6 535.0 L786.1 533.1 L786.6 531.2 L787.1 529.2 L787.7 527.3 L788.2 525.4 L788.7 523.4 L789.3 521.5 L789.8 519.6 L790.3 517.6 L790.9 515.7 L791.4 513.8 L792.0 511.8 L792.6 509.9 L793.1 508.0 L793.7 506.0 L794.3 504.1 L794.8 502.2 L795.4 500.3 L796.0 498.3 L796.6 496.4 L797.2 494.5 L797.8 492.6 L798.4 490.6 L799.0 488.7 L799.7 486.8 L800.3 484.9 L800.9 483.0 L801.6 481.1 L802.2 479.1 L802.8 477.2 L803.5 475.3 L804.2 473.4 L804.8 471.5 L805.5 469.6 L806.2 467.7 L806.8 465.8 L807.5 463.9 L808.2 462.0 L808.9 460.1 L809.6 458.2 L810.3 456.3 L811.0 454.4 L811.8 452.5 L812.5 450.6 L813.2 448.7 L814.0 446.8 L814.7 444.9 L815.5 443.0 L816.2 441.1 L817.0 439.2 L817.8 437.3 L818.6 435.5 L819.4 433.6 L820.2 431.7 L821.0 429.8 L821.8 428.0 L822.6 426.1 L823.5 424.2 L824.3 422.4 L825.2 420.5 L826.0 418.7 L826.9 416.9 L827.8 415.1 L828.7 413.2 L829.6 411.4 L830.5 409.6 L831.5 407.8 L832.4 406.1 L833.4 404.3 L834.4 402.5 L835.4 400.8 L836.4 399.1 L837.4 397.3 L839.5 393.9 L841.6 390.6 L843.8 387.3 L846.1 384.1 L848.4 380.9 L850.8 377.8 L853.3 374.8 L855.9 371.8 L858.6 369.0 L861.3 366.2 L864.1 363.5 L867.0 360.9 L870.0 358.4 L873.1 355.9 L876.3 353.6 L879.6 351.4 L882.9 349.3 L886.4 347.3 L888.2 346.3 L889.9 345.4 L891.8 344.5 L893.6 343.6 L895.4 342.7 L897.3 341.9 L899.1 341.1 L901.0 340.3 L902.9 339.5 L904.8 338.8 L906.8 338.1 L908.7 337.4 L910.7 336.7 L912.6 336.0 L914.6 335.4 L916.6 334.8 L918.5 334.2 L920.5 333.7 L922.5 333.1 L924.5 332.6 L926.5 332.1 L928.5 331.6 L930.6 331.2 L932.6 330.8 L934.6 330.4 L936.6 330.0 L938.6 329.6 L940.6 329.2 L942.6 328.9 L944.6 328.6 L946.7 328.3 L948.7 328.0 L950.6 327.8 L952.6 327.5 L956.6 327.1 L960.6 326.8 L964.5 326.5 L968.4 326.3 L972.4 326.2 L976.3 326.2 L980.2 326.2 L984.1 326.3 L988.1 326.5 L992.0 326.7 L995.9 327.0 L999.8 327.4 L1003.8 327.8 L1007.8 328.3 L1009.7 328.6 L1011.7 328.9 L1013.7 329.2 L1015.7 329.6 L1017.7 329.9 L1019.7 330.3 L1021.7 330.7 L1023.7 331.1 L1025.7 331.5 L1027.8 331.9 L1029.8 332.4 L1031.8 332.8 L1033.8 333.3 L1035.8 333.8 L1037.8 334.3 L1039.8 334.9 L1041.8 335.4 L1043.8 336.0 L1045.7 336.6 L1047.7 337.2 L1049.7 337.8 L1051.7 338.5 L1053.6 339.1 L1055.6 339.8 L1057.6 340.5 L1059.5 341.2 L1061.4 341.9 L1063.4 342.6 L1065.3 343.4 L1067.2 344.2 L1069.1 345.0 L1071.0 345.8 L1072.9 346.6 L1074.7 347.5 L1076.6 348.3 L1078.4 349.2 L1080.2 350.1 L1082.1 351.0 L1083.9 352.0 L1085.6 352.9 L1087.4 353.9 L1089.2 354.9 L1090.9 355.9 L1092.6 356.9 L1096.0 359.0 L1099.4 361.2 L1102.6 363.4 L1105.8 365.7 L1109.0 368.1 L1112.1 370.5 L1115.1 373.0 L1118.1 375.6 L1121.0 378.2 L1123.8 380.8 L1126.6 383.6 L1129.4 386.4 L1132.0 389.2 L1134.7 392.1 L1137.3 395.0 L1139.8 398.0 L1142.3 401.0 L1144.7 404.1 L1147.1 407.2 L1149.5 410.4 L1151.8 413.6 L1154.0 416.9 L1156.2 420.2 L1158.4 423.5 L1160.5 426.9 L1162.6 430.3 L1164.7 433.7 L1165.7 435.4 L1166.7 437.2 L1167.7 438.9 L1168.7 440.7 L1169.6 442.4 L1170.6 444.2 L1171.6 446.0 L1172.5 447.7 L1173.4 449.5 L1174.4 451.3 L1175.3 453.1 L1176.2 454.9 L1177.1 456.8 L1178.0 458.6 L1178.9 460.4 L1179.8 462.2 L1180.7 464.1 L1181.5 465.9 L1182.4 467.8 L1183.2 469.6 L1184.1 471.5 L1184.9 473.3 L1185.7 475.2 L1186.6 477.1 L1187.4 478.9 L1188.2 480.8 L1189.0 482.7 L1189.8 484.6 L1190.6 486.5 L1191.4 488.3 L1192.2 490.2 L1192.9 492.1 L1193.7 494.0 L1194.5 495.9 L1195.2 497.8 L1196.0 499.7 L1196.7 501.6 L1197.5 503.6 L1198.2 505.5 L1199.0 507.4 L1199.7 509.3 L1200.4 511.2 L1201.1 513.1 L1201.9 515.0 L1202.6 516.9 L1203.3 518.9 L1204.0 520.8 L1204.7 522.7 L1205.4 524.6 L1206.1 526.5 L1206.8 528.4 L1207.4 530.3 L1208.1 532.2 L1208.8 534.2 L1209.5 536.1 L1210.2 538.0 L1210.8 539.9 L1211.5 541.8 L1212.2 543.7 L1212.8 545.6 L1213.5 547.5 L1214.1 549.5 L1214.8 551.4 L1215.4 553.3 L1216.1 555.2 L1216.7 557.1 L1217.4 559.0 L1218.0 560.9 L1218.6 562.8 L1219.3 564.7 L1219.9 566.6 L1220.5 568.5 L1221.1 570.5 L1221.8 572.4 L1222.4 574.3 L1223.0 576.2 L1223.6 578.1 L1224.2 580.0 L1224.8 581.9 L1225.4 583.8 L1226.0 585.7 L1226.6 587.6 L1227.8 591.4 L1229.0 595.3 L1230.1 599.1 L1231.3 602.9 L1232.4 606.7 L1233.6 610.5 L1234.7 614.4 L1235.8 618.2 L1236.9 622.0 L1238.0 625.8 L1239.1 629.7 L1240.2 633.5 L1241.3 637.3 L1242.4 641.2 L1243.4 645.0 L1244.5 648.8 L1245.5 652.7 L1246.5 656.5 L1247.6 660.4 L1248.6 664.2 L1249.6 668.1 L1250.6 671.9 L1251.6 675.8 L1252.6 679.7 L1253.6 683.5 L1254.6 687.4 L1255.6 691.3 L1256.6 695.1 L1257.6 699.0 L1258.0 701.0 L1258.5 702.9 L1259.0 704.8 L1259.5 706.8 L1260.0 708.7 L1260.5 710.7 L1260.9 712.6 L1261.4 714.6 L1261.9 716.5 L1262.4 718.5 L1262.8 720.4 L1263.3 722.4 L1263.8 724.3 L1264.3 726.3 L1264.7 728.2 L1265.2 730.2 L1265.7 732.2 L1266.1 734.1 L1266.6 736.1 L1267.1 738.0 L1267.5 740.0 L1268.0 742.0 L1268.5 743.9 L1268.9 745.9 L1269.4 747.9 L1269.9 749.8 L1270.3 751.8 L1270.8 753.8 L1271.3 755.8 L1271.7 757.7 L1272.2 759.7 L1272.6 761.7 L1273.1 763.7 L1273.6 765.7 L1274.0 767.6 L1274.5 769.6 L1275.0 771.6 L1275.4 773.6 L1275.9 775.6 L1276.4 777.5 L1276.8 779.5 L1277.3 781.5 L1277.8 783.5 L1278.3 785.4 L1278.7 787.4 L1279.2 789.4 L1279.7 791.4 L1280.2 793.3 L1280.7 795.3 L1281.2 797.3 L1281.7 799.2 L1282.2 801.2 L1282.7 803.2 L1283.2 805.1 L1283.7 807.1 L1284.2 809.0 L1284.7 811.0 L1285.3 812.9 L1285.8 814.8 L1286.3 816.8 L1286.9 818.7 L1287.4 820.6 L1288.5 824.5 L1289.7 828.3 L1290.8 832.1 L1292.0 835.9 L1293.2 839.7 L1294.5 843.4 L1295.8 847.2 L1297.1 850.9 L1298.5 854.7 L1299.9 858.4 L1301.3 862.1 L1302.1 864.0 L1302.8 865.9 L1303.6 867.7 L1304.4 869.6 L1305.1 871.4 L1305.9 873.3 L1306.7 875.1 L1307.5 877.0 L1308.3 878.8 L1309.1 880.7 L1309.9 882.5 L1310.7 884.4 L1311.5 886.2 L1312.3 888.1 L1313.2 889.9 L1314.0 891.7 L1314.8 893.6 L1315.6 895.4 L1316.4 897.3 L1317.3 899.1 L1318.1 900.9 L1318.9 902.8 L1319.7 904.6 L1320.6 906.5 L1321.4 908.3 L1322.2 910.1 L1323.0 912.0 L1323.9 913.8 L1325.7 917.3 L1327.7 920.8 L1330.0 924.0 L1331.3 925.6 L1332.7 927.0 L1334.1 928.5 L1335.7 929.8 L1337.4 931.1 L1339.3 932.2 L1341.2 933.3 L1343.2 934.2 L1345.2 934.8 L1347.2 935.3 L1351.1 935.4 L1354.6 934.2 L1357.7 932.0 L1359.2 930.7 L1360.6 929.2 L1361.9 927.5 L1363.2 925.9 L1364.5 924.2 L1365.8 922.5 L1367.0 920.8 L1368.2 919.1 L1369.4 917.4 L1370.5 915.7 L1371.6 913.9 L1372.7 912.2 L1373.8 910.5 L1374.8 908.7 L1375.8 907.0 L1376.9 905.2 L1377.8 903.4 L1378.8 901.7 L1379.8 899.9 L1380.7 898.1 L1381.7 896.3 L1382.6 894.6 L1383.5 892.8 L1384.4 891.0 L1385.3 889.2 L1386.2 887.4 L1387.1 885.6 L1388.8 882.0 L1390.6 878.4 L1392.3 874.8 L1394.0 871.2 L1395.7 867.6 L1397.4 864.0 L1399.0 860.3 L1400.7 856.7 L1402.3 853.1 L1404.0 849.4 L1405.6 845.8 L1407.2 842.1 L1408.8 838.5 L1410.4 834.8 L1412.0 831.2 L1413.6 827.5 L1415.2 823.9 L1416.8 820.2 L1418.3 816.5 L1419.9 812.9 L1421.5 809.2 L1423.0 805.5 L1424.6 801.8 L1426.1 798.2 L1427.7 794.5 L1429.2 790.8 L1430.8 787.1 L1432.3 783.4 L1433.9 779.8 L1435.4 776.1 L1437.0 772.4 L1438.5 768.7 L1440.1 765.0 L1441.6 761.4 L1443.2 757.7 L1444.8 754.0 L1445.6 752.2 L1446.3 750.3 L1447.1 748.5 L1447.9 746.6 L1448.7 744.8 L1449.5 743.0 L1450.3 741.1 L1451.1 739.3 L1451.9 737.5 L1452.7 735.6 L1453.5 733.8 L1454.3 731.9 L1455.1 730.1 L1455.9 728.3 L1456.7 726.4 L1457.5 724.6 L1458.3 722.8 L1459.2 720.9 L1460.0 719.1 L1460.8 717.3 L1461.6 715.4 L1462.5 713.6 L1463.3 711.8 L1464.1 710.0 L1465.0 708.1 L1465.8 706.3 L1466.6 704.5 L1467.5 702.7 L1468.3 700.8 L1469.2 699.0 L1470.0 697.2 L1470.9 695.4 L1471.8 693.5 L1472.6 691.7 L1473.5 689.9 L1474.4 688.1 L1475.2 686.3 L1476.1 684.5 L1477.0 682.6 L1477.9 680.8 L1478.8 679.0 L1479.7 677.2 L1480.6 675.4 L1481.5 673.6 L1482.4 671.8 L1483.3 670.0 L1484.2 668.2 L1485.2 666.4 L1486.1 664.6 L1487.0 662.8 L1488.0 661.0 L1488.9 659.2 L1489.8 657.4 L1490.8 655.6 L1491.7 653.8 L1492.7 652.0 L1493.6 650.2 L1494.6 648.4 L1495.6 646.7 L1496.5 644.9 L1497.5 643.1 L1498.5 641.3 L1499.5 639.5 L1500.5 637.8 L1501.5 636.0 L1502.5 634.2 L1503.5 632.5 L1504.5 630.7 L1505.5 629.0 L1506.5 627.2 L1507.5 625.4 L1508.5 623.7 L1509.6 622.0 L1510.6 620.2 L1511.6 618.5 L1512.7 616.7 L1513.7 615.0 L1514.8 613.3 L1515.8 611.5 L1516.9 609.8 L1518.0 608.1 L1519.0 606.4 L1520.1 604.6 L1521.2 602.9 L1522.3 601.2 L1523.4 599.5 L1524.5 597.8 L1525.6 596.1 L1526.7 594.4 L1527.8 592.7 L1528.9 591.0 L1530.0 589.3 L1531.1 587.6 L1532.2 586.0 L1533.4 584.3 L1534.5 582.6 L1535.7 581.0 L1536.8 579.3 L1537.9 577.6 L1539.1 576.0 L1540.3 574.3 L1541.4 572.7 L1542.6 571.0 L1543.8 569.4 L1545.0 567.8 L1546.1 566.1 L1547.3 564.5 L1548.5 562.9 L1549.7 561.3 L1550.9 559.7 L1552.2 558.1 L1553.4 556.5 L1554.6 554.9 L1555.8 553.3 L1557.1 551.7 L1558.3 550.1 L1559.5 548.5 L1560.8 547.0 L1562.0 545.4 L1563.3 543.8 L1564.6 542.3 L1565.8 540.7 L1567.1 539.2 L1568.4 537.6 L1569.7 536.1 L1571.0 534.6 L1572.2 533.0 L1573.6 531.5 L1574.9 530.0 L1577.5 527.0 L1580.1 524.0 L1582.8 521.0 L1585.5 518.1 L1588.2 515.2 L1591.0 512.3 L1593.7 509.4 L1596.5 506.6 L1599.3 503.7 L1602.2 501.0 L1605.0 498.2 L1607.9 495.4 L1610.8 492.7 L1613.7 490.0 L1616.7 487.4 L1619.6 484.8 L1622.6 482.2 L1625.6 479.6 L1628.7 477.0 L1631.7 474.5 L1634.8 472.0 L1638.0 469.6 L1641.1 467.2 L1644.3 464.8 L1647.5 462.4 L1650.7 460.1 L1653.9 457.8 L1657.2 455.5 L1660.5 453.3 L1663.8 451.1 L1667.1 449.0 L1670.5 446.8 L1673.9 444.7 L1677.3 442.7 L1680.8 440.7 L1684.2 438.7 L1686.0 437.7 L1687.7 436.7 L1689.5 435.8 L1691.3 434.8 L1693.0 433.9 L1694.8 433.0 L1696.6 432.0 L1698.4 431.1 L1700.2 430.2 L1702.0 429.3 L1703.8 428.4 L1705.6 427.6 L1707.5 426.7 L1709.3 425.8 L1711.1 425.0 L1713.0 424.2 L1714.8 423.3 L1716.7 422.5 L1718.6 421.7 L1720.4 420.9 L1722.3 420.1 L1724.2 419.4 L1726.1 418.6 L1728.0 417.8 L1729.9 417.1 L1731.8 416.4 L1733.8 415.6 L1735.7 414.9 L1737.6 414.2 L1739.6 413.5 L1741.5 412.8 L1743.5 412.2 L1745.5 411.5 L1747.4 410.9 L1749.4 410.2 L1751.4 409.6 L1751.4 409.6"/>
</g>
<g fill="none" stroke="#2e3192" stroke-width="5.35"><ellipse cx="191.3" cy="903.5" rx="10.85" ry="11.15"/><ellipse cx="210.8" cy="902.4" rx="10.85" ry="11.15"/><ellipse cx="230.4" cy="901.6" rx="10.85" ry="11.15"/><ellipse cx="249.9" cy="900.4" rx="10.85" ry="11.15"/><ellipse cx="269.4" cy="899.0" rx="10.85" ry="11.15"/><ellipse cx="289.0" cy="897.3" rx="10.85" ry="11.15"/><ellipse cx="308.5" cy="895.4" rx="10.85" ry="11.15"/><ellipse cx="328.0" cy="892.5" rx="10.85" ry="11.15"/><ellipse cx="347.5" cy="889.4" rx="10.85" ry="11.15"/><ellipse cx="367.1" cy="886.5" rx="10.85" ry="11.15"/><ellipse cx="386.6" cy="883.4" rx="10.85" ry="11.15"/><ellipse cx="406.1" cy="879.3" rx="10.85" ry="11.15"/><ellipse cx="425.7" cy="874.3" rx="10.85" ry="11.15"/><ellipse cx="445.2" cy="868.3" rx="10.85" ry="11.15"/><ellipse cx="464.7" cy="862.2" rx="10.85" ry="11.15"/><ellipse cx="484.3" cy="853.4" rx="10.85" ry="11.15"/><ellipse cx="503.8" cy="844.4" rx="10.85" ry="11.15"/><ellipse cx="523.3" cy="832.0" rx="10.85" ry="11.15"/><ellipse cx="542.8" cy="817.6" rx="10.85" ry="11.15"/><ellipse cx="562.4" cy="799.2" rx="10.85" ry="11.15"/><ellipse cx="581.9" cy="775.6" rx="10.85" ry="11.15"/><ellipse cx="601.4" cy="745.6" rx="10.85" ry="11.15"/><ellipse cx="621.0" cy="707.3" rx="10.85" ry="11.15"/><ellipse cx="640.5" cy="659.0" rx="10.85" ry="11.15"/><ellipse cx="660.0" cy="601.6" rx="10.85" ry="11.15"/><ellipse cx="679.5" cy="547.8" rx="10.85" ry="11.15"/><ellipse cx="699.1" cy="522.6" rx="10.85" ry="11.15"/><ellipse cx="718.6" cy="555.9" rx="10.85" ry="11.15"/><ellipse cx="738.1" cy="641.8" rx="10.85" ry="11.15"/><ellipse cx="757.7" cy="738.8" rx="10.85" ry="11.15"/><ellipse cx="777.2" cy="817.8" rx="10.85" ry="11.15"/><ellipse cx="796.7" cy="872.5" rx="10.85" ry="11.15"/><ellipse cx="816.3" cy="907.9" rx="10.85" ry="11.15"/><ellipse cx="835.8" cy="930.6" rx="10.85" ry="11.15"/><ellipse cx="855.3" cy="946.0" rx="10.85" ry="11.15"/><ellipse cx="874.9" cy="956.0" rx="10.85" ry="11.15"/><ellipse cx="894.4" cy="962.4" rx="10.85" ry="11.15"/><ellipse cx="913.9" cy="967.0" rx="10.85" ry="11.15"/><ellipse cx="933.4" cy="970.0" rx="10.85" ry="11.15"/><ellipse cx="953.0" cy="971.8" rx="10.85" ry="11.15"/><ellipse cx="972.5" cy="972.8" rx="10.85" ry="11.15"/><ellipse cx="992.0" cy="973.5" rx="10.85" ry="11.15"/><ellipse cx="1011.6" cy="973.5" rx="10.85" ry="11.15"/><ellipse cx="1031.1" cy="973.5" rx="10.85" ry="11.15"/><ellipse cx="1050.6" cy="973.5" rx="10.85" ry="11.15"/><ellipse cx="1070.2" cy="973.5" rx="10.85" ry="11.15"/><ellipse cx="1089.7" cy="973.5" rx="10.85" ry="11.15"/><ellipse cx="1109.2" cy="973.5" rx="10.85" ry="11.15"/><ellipse cx="1128.7" cy="973.5" rx="10.85" ry="11.15"/><ellipse cx="1148.3" cy="973.5" rx="10.85" ry="11.15"/><ellipse cx="1167.8" cy="973.5" rx="10.85" ry="11.15"/><ellipse cx="1187.3" cy="973.5" rx="10.85" ry="11.15"/><ellipse cx="1206.9" cy="973.5" rx="10.85" ry="11.15"/><ellipse cx="1226.4" cy="973.5" rx="10.85" ry="11.15"/><ellipse cx="1245.9" cy="973.5" rx="10.85" ry="11.15"/><ellipse cx="1265.5" cy="973.5" rx="10.85" ry="11.15"/><ellipse cx="1285.0" cy="973.5" rx="10.85" ry="11.15"/><ellipse cx="1304.5" cy="973.5" rx="10.85" ry="11.15"/><ellipse cx="1324.0" cy="973.5" rx="10.85" ry="11.15"/><ellipse cx="1343.6" cy="973.5" rx="10.85" ry="11.15"/><ellipse cx="1363.1" cy="973.5" rx="10.85" ry="11.15"/><ellipse cx="1382.6" cy="973.5" rx="10.85" ry="11.15"/><ellipse cx="1402.2" cy="973.5" rx="10.85" ry="11.15"/><ellipse cx="1421.7" cy="973.5" rx="10.85" ry="11.15"/><ellipse cx="1441.2" cy="973.5" rx="10.85" ry="11.15"/><ellipse cx="1460.8" cy="973.5" rx="10.85" ry="11.15"/><ellipse cx="1480.3" cy="973.5" rx="10.85" ry="11.15"/><ellipse cx="1499.8" cy="973.3" rx="10.85" ry="11.15"/><ellipse cx="1519.3" cy="973.1" rx="10.85" ry="11.15"/><ellipse cx="1538.9" cy="972.9" rx="10.85" ry="11.15"/><ellipse cx="1558.4" cy="972.7" rx="10.85" ry="11.15"/><ellipse cx="1577.9" cy="972.4" rx="10.85" ry="11.15"/><ellipse cx="1597.5" cy="971.9" rx="10.85" ry="11.15"/><ellipse cx="1617.0" cy="971.3" rx="10.85" ry="11.15"/><ellipse cx="1636.5" cy="970.8" rx="10.85" ry="11.15"/><ellipse cx="1656.0" cy="970.2" rx="10.85" ry="11.15"/><ellipse cx="1675.6" cy="969.6" rx="10.85" ry="11.15"/><ellipse cx="1695.1" cy="968.7" rx="10.85" ry="11.15"/><ellipse cx="1714.6" cy="967.6" rx="10.85" ry="11.15"/><ellipse cx="1734.2" cy="965.8" rx="10.85" ry="11.15"/></g>
<g fill="none" stroke="#ed1c24" stroke-width="5.35"><ellipse cx="191.3" cy="954.9" rx="10.85" ry="11.15"/><ellipse cx="210.8" cy="956.6" rx="10.85" ry="11.15"/><ellipse cx="230.4" cy="958.6" rx="10.85" ry="11.15"/><ellipse cx="249.9" cy="960.5" rx="10.85" ry="11.15"/><ellipse cx="269.4" cy="961.7" rx="10.85" ry="11.15"/><ellipse cx="289.0" cy="963.1" rx="10.85" ry="11.15"/><ellipse cx="308.5" cy="964.4" rx="10.85" ry="11.15"/><ellipse cx="328.0" cy="965.3" rx="10.85" ry="11.15"/><ellipse cx="347.5" cy="966.1" rx="10.85" ry="11.15"/><ellipse cx="367.1" cy="966.9" rx="10.85" ry="11.15"/><ellipse cx="386.6" cy="967.6" rx="10.85" ry="11.15"/><ellipse cx="406.1" cy="968.4" rx="10.85" ry="11.15"/><ellipse cx="425.7" cy="968.9" rx="10.85" ry="11.15"/><ellipse cx="445.2" cy="969.6" rx="10.85" ry="11.15"/><ellipse cx="464.7" cy="970.3" rx="10.85" ry="11.15"/><ellipse cx="484.3" cy="970.9" rx="10.85" ry="11.15"/><ellipse cx="503.8" cy="971.4" rx="10.85" ry="11.15"/><ellipse cx="523.3" cy="971.9" rx="10.85" ry="11.15"/><ellipse cx="542.8" cy="972.3" rx="10.85" ry="11.15"/><ellipse cx="562.4" cy="972.7" rx="10.85" ry="11.15"/><ellipse cx="581.9" cy="973.3" rx="10.85" ry="11.15"/><ellipse cx="601.4" cy="973.3" rx="10.85" ry="11.15"/><ellipse cx="621.0" cy="973.3" rx="10.85" ry="11.15"/><ellipse cx="640.5" cy="973.3" rx="10.85" ry="11.15"/><ellipse cx="660.0" cy="973.3" rx="10.85" ry="11.15"/><ellipse cx="679.5" cy="973.3" rx="10.85" ry="11.15"/><ellipse cx="699.1" cy="973.3" rx="10.85" ry="11.15"/><ellipse cx="718.6" cy="973.3" rx="10.85" ry="11.15"/><ellipse cx="738.1" cy="973.3" rx="10.85" ry="11.15"/><ellipse cx="757.7" cy="973.3" rx="10.85" ry="11.15"/><ellipse cx="777.2" cy="973.3" rx="10.85" ry="11.15"/><ellipse cx="796.7" cy="973.3" rx="10.85" ry="11.15"/><ellipse cx="816.3" cy="973.3" rx="10.85" ry="11.15"/><ellipse cx="835.8" cy="973.3" rx="10.85" ry="11.15"/><ellipse cx="855.3" cy="973.3" rx="10.85" ry="11.15"/><ellipse cx="874.9" cy="973.3" rx="10.85" ry="11.15"/><ellipse cx="894.4" cy="973.3" rx="10.85" ry="11.15"/><ellipse cx="913.9" cy="973.3" rx="10.85" ry="11.15"/><ellipse cx="933.4" cy="973.3" rx="10.85" ry="11.15"/><ellipse cx="953.0" cy="973.3" rx="10.85" ry="11.15"/><ellipse cx="972.5" cy="973.3" rx="10.85" ry="11.15"/><ellipse cx="992.0" cy="973.3" rx="10.85" ry="11.15"/><ellipse cx="1011.6" cy="971.9" rx="10.85" ry="11.15"/><ellipse cx="1031.1" cy="970.7" rx="10.85" ry="11.15"/><ellipse cx="1050.6" cy="969.0" rx="10.85" ry="11.15"/><ellipse cx="1070.2" cy="966.6" rx="10.85" ry="11.15"/><ellipse cx="1089.7" cy="963.0" rx="10.85" ry="11.15"/><ellipse cx="1109.2" cy="958.4" rx="10.85" ry="11.15"/><ellipse cx="1128.7" cy="950.9" rx="10.85" ry="11.15"/><ellipse cx="1148.3" cy="941.0" rx="10.85" ry="11.15"/><ellipse cx="1167.8" cy="927.3" rx="10.85" ry="11.15"/><ellipse cx="1187.3" cy="907.2" rx="10.85" ry="11.15"/><ellipse cx="1206.9" cy="880.2" rx="10.85" ry="11.15"/><ellipse cx="1226.4" cy="843.5" rx="10.85" ry="11.15"/><ellipse cx="1245.9" cy="795.0" rx="10.85" ry="11.15"/><ellipse cx="1265.5" cy="735.7" rx="10.85" ry="11.15"/><ellipse cx="1285.0" cy="666.5" rx="10.85" ry="11.15"/><ellipse cx="1304.5" cy="595.7" rx="10.85" ry="11.15"/><ellipse cx="1324.0" cy="534.0" rx="10.85" ry="11.15"/><ellipse cx="1343.6" cy="493.0" rx="10.85" ry="11.15"/><ellipse cx="1363.1" cy="476.0" rx="10.85" ry="11.15"/><ellipse cx="1382.6" cy="481.7" rx="10.85" ry="11.15"/><ellipse cx="1402.2" cy="501.6" rx="10.85" ry="11.15"/><ellipse cx="1421.7" cy="529.6" rx="10.85" ry="11.15"/><ellipse cx="1441.2" cy="561.0" rx="10.85" ry="11.15"/><ellipse cx="1460.8" cy="592.0" rx="10.85" ry="11.15"/><ellipse cx="1480.3" cy="620.0" rx="10.85" ry="11.15"/><ellipse cx="1499.8" cy="646.0" rx="10.85" ry="11.15"/><ellipse cx="1519.3" cy="668.8" rx="10.85" ry="11.15"/><ellipse cx="1538.9" cy="687.6" rx="10.85" ry="11.15"/><ellipse cx="1558.4" cy="705.5" rx="10.85" ry="11.15"/><ellipse cx="1577.9" cy="721.3" rx="10.85" ry="11.15"/><ellipse cx="1597.5" cy="734.6" rx="10.85" ry="11.15"/><ellipse cx="1617.0" cy="746.0" rx="10.85" ry="11.15"/><ellipse cx="1636.5" cy="756.2" rx="10.85" ry="11.15"/><ellipse cx="1656.0" cy="765.7" rx="10.85" ry="11.15"/><ellipse cx="1675.6" cy="774.0" rx="10.85" ry="11.15"/><ellipse cx="1695.1" cy="781.4" rx="10.85" ry="11.15"/><ellipse cx="1714.6" cy="788.0" rx="10.85" ry="11.15"/><ellipse cx="1734.2" cy="794.2" rx="10.85" ry="11.15"/></g>
<g fill="none" stroke="#231f20" stroke-width="5.4"><ellipse cx="191.3" cy="352.0" rx="10.9" ry="11.2"/><ellipse cx="210.8" cy="352.0" rx="10.9" ry="11.2"/><ellipse cx="230.4" cy="351.4" rx="10.9" ry="11.2"/><ellipse cx="249.9" cy="351.4" rx="10.9" ry="11.2"/><ellipse cx="269.4" cy="352.0" rx="10.9" ry="11.2"/><ellipse cx="289.0" cy="352.0" rx="10.9" ry="11.2"/><ellipse cx="308.5" cy="353.0" rx="10.9" ry="11.2"/><ellipse cx="328.0" cy="355.4" rx="10.9" ry="11.2"/><ellipse cx="347.5" cy="357.0" rx="10.9" ry="11.2"/><ellipse cx="367.1" cy="359.4" rx="10.9" ry="11.2"/><ellipse cx="386.6" cy="362.0" rx="10.9" ry="11.2"/><ellipse cx="406.1" cy="366.0" rx="10.9" ry="11.2"/><ellipse cx="425.7" cy="371.0" rx="10.9" ry="11.2"/><ellipse cx="445.2" cy="376.0" rx="10.9" ry="11.2"/><ellipse cx="464.7" cy="384.0" rx="10.9" ry="11.2"/><ellipse cx="484.3" cy="393.0" rx="10.9" ry="11.2"/><ellipse cx="503.8" cy="403.0" rx="10.9" ry="11.2"/><ellipse cx="523.3" cy="419.0" rx="10.9" ry="11.2"/><ellipse cx="542.8" cy="438.0" rx="10.9" ry="11.2"/><ellipse cx="562.4" cy="462.0" rx="10.9" ry="11.2"/><ellipse cx="581.9" cy="493.4" rx="10.9" ry="11.2"/><ellipse cx="601.4" cy="535.8" rx="10.9" ry="11.2"/><ellipse cx="621.0" cy="594.0" rx="10.9" ry="11.2"/><ellipse cx="640.5" cy="670.0" rx="10.9" ry="11.2"/><ellipse cx="660.0" cy="765.0" rx="10.9" ry="11.2"/><ellipse cx="679.5" cy="868.0" rx="10.9" ry="11.2"/><ellipse cx="699.1" cy="939.0" rx="10.9" ry="11.2"/><ellipse cx="718.6" cy="925.8" rx="10.9" ry="11.2"/><ellipse cx="738.1" cy="823.0" rx="10.9" ry="11.2"/><ellipse cx="757.7" cy="687.0" rx="10.9" ry="11.2"/><ellipse cx="777.2" cy="568.0" rx="10.9" ry="11.2"/><ellipse cx="796.7" cy="483.0" rx="10.9" ry="11.2"/><ellipse cx="816.3" cy="426.0" rx="10.9" ry="11.2"/><ellipse cx="835.8" cy="386.0" rx="10.9" ry="11.2"/><ellipse cx="855.3" cy="359.0" rx="10.9" ry="11.2"/><ellipse cx="874.9" cy="342.0" rx="10.9" ry="11.2"/><ellipse cx="894.4" cy="331.0" rx="10.9" ry="11.2"/><ellipse cx="913.9" cy="323.6" rx="10.9" ry="11.2"/><ellipse cx="933.4" cy="320.7" rx="10.9" ry="11.2"/><ellipse cx="953.0" cy="320.7" rx="10.9" ry="11.2"/><ellipse cx="972.5" cy="321.5" rx="10.9" ry="11.2"/><ellipse cx="992.0" cy="325.5" rx="10.9" ry="11.2"/><ellipse cx="1011.6" cy="329.0" rx="10.9" ry="11.2"/><ellipse cx="1031.1" cy="334.8" rx="10.9" ry="11.2"/><ellipse cx="1050.6" cy="342.8" rx="10.9" ry="11.2"/><ellipse cx="1070.2" cy="351.0" rx="10.9" ry="11.2"/><ellipse cx="1089.7" cy="361.0" rx="10.9" ry="11.2"/><ellipse cx="1109.2" cy="373.0" rx="10.9" ry="11.2"/><ellipse cx="1128.7" cy="389.0" rx="10.9" ry="11.2"/><ellipse cx="1148.3" cy="407.0" rx="10.9" ry="11.2"/><ellipse cx="1167.8" cy="430.5" rx="10.9" ry="11.2"/><ellipse cx="1187.3" cy="461.0" rx="10.9" ry="11.2"/><ellipse cx="1206.9" cy="501.0" rx="10.9" ry="11.2"/><ellipse cx="1226.4" cy="550.0" rx="10.9" ry="11.2"/><ellipse cx="1245.9" cy="611.0" rx="10.9" ry="11.2"/><ellipse cx="1265.5" cy="685.5" rx="10.9" ry="11.2"/><ellipse cx="1285.0" cy="763.0" rx="10.9" ry="11.2"/><ellipse cx="1304.5" cy="839.0" rx="10.9" ry="11.2"/><ellipse cx="1324.0" cy="897.0" rx="10.9" ry="11.2"/><ellipse cx="1343.6" cy="928.0" rx="10.9" ry="11.2"/><ellipse cx="1363.1" cy="928.0" rx="10.9" ry="11.2"/><ellipse cx="1382.6" cy="903.0" rx="10.9" ry="11.2"/><ellipse cx="1402.2" cy="862.0" rx="10.9" ry="11.2"/><ellipse cx="1421.7" cy="816.5" rx="10.9" ry="11.2"/><ellipse cx="1441.2" cy="769.5" rx="10.9" ry="11.2"/><ellipse cx="1460.8" cy="726.0" rx="10.9" ry="11.2"/><ellipse cx="1480.3" cy="685.0" rx="10.9" ry="11.2"/><ellipse cx="1499.8" cy="650.0" rx="10.9" ry="11.2"/><ellipse cx="1519.3" cy="620.0" rx="10.9" ry="11.2"/><ellipse cx="1538.9" cy="591.5" rx="10.9" ry="11.2"/><ellipse cx="1558.4" cy="569.5" rx="10.9" ry="11.2"/><ellipse cx="1577.9" cy="549.0" rx="10.9" ry="11.2"/><ellipse cx="1597.5" cy="530.0" rx="10.9" ry="11.2"/><ellipse cx="1617.0" cy="515.0" rx="10.9" ry="11.2"/><ellipse cx="1636.5" cy="501.4" rx="10.9" ry="11.2"/><ellipse cx="1656.0" cy="489.0" rx="10.9" ry="11.2"/><ellipse cx="1675.6" cy="478.0" rx="10.9" ry="11.2"/><ellipse cx="1695.1" cy="468.6" rx="10.9" ry="11.2"/><ellipse cx="1714.6" cy="460.6" rx="10.9" ry="11.2"/><ellipse cx="1734.2" cy="454.0" rx="10.9" ry="11.2"/></g>
<g fill="none" stroke-width="9.2" stroke-linecap="round"><path stroke="#2e3192" stroke-width="9.3" d="M1871.3 348.3 H2005.6"/><path stroke="#ed1c24" stroke-width="10.0" d="M1871.3 427.8 H2005.6"/><path stroke="#231f20" stroke-width="10.1" d="M1871.3 505.8 H2005.6"/></g><g fill="none" stroke-width="4.4"><ellipse stroke="#2e3192" cx="1938" cy="583.2" rx="11.0" ry="11.15"/><ellipse stroke="#ed1c24" cx="1938" cy="660.7" rx="11.0" ry="11.15"/><ellipse stroke="#231f20" cx="1938" cy="738.8" rx="11.0" ry="11.15"/></g>
<text class="t" transform="translate(0 83.3) scale(1 1.1)" x="29.9 68.5 89.2" y="0" font-size="64.4" stroke-width="1.4">1.0</text>
<text class="t" transform="translate(0 266.9) scale(1 1.1)" x="27.0 68.5 89.2" y="0" font-size="64.4" stroke-width="1.4">0.8</text>
<text class="t" transform="translate(0 450.5) scale(1 1.1)" x="27.0 68.5 89.0" y="0" font-size="64.4" stroke-width="1.4">0.6</text>
<text class="t" transform="translate(0 634.1) scale(1 1.1)" x="27.0 68.5 89.4" y="0" font-size="64.4" stroke-width="1.4">0.4</text>
<text class="t" transform="translate(0 817.7) scale(1 1.1)" x="27.0 68.5 89.2" y="0" font-size="64.4" stroke-width="1.4">0.2</text>
<text class="t" transform="translate(0 1001.3) scale(1 1.1)" x="27.0 68.5 89.2" y="0" font-size="64.4" stroke-width="1.4">0.0</text>
<text class="t" transform="translate(0 1102.5) scale(1 1.1)" x="353.2 391.5 433.0" y="0" font-size="64.4" stroke-width="1.4">100</text>
<text class="t" transform="translate(0 1102.5) scale(1 1.1)" x="799.6 837.9 879.4" y="0" font-size="64.4" stroke-width="1.4">120</text>
<text class="t" transform="translate(0 1102.5) scale(1 1.1)" x="1246.1 1284.6 1325.9" y="0" font-size="64.4" stroke-width="1.4">140</text>
<text class="t" transform="translate(0 1102.5) scale(1 1.1)" x="1692.9 1731.0 1772.7" y="0" font-size="64.4" stroke-width="1.4">160</text>
<text class="t" transform="translate(0 1245.2) scale(1 1.069)" x="636.8 689.1 718.8 765.9 814.0 862.0 910.0 958.7 1001.7 1044.3 1066.5 1096.7 1168.6 1231.2 1276.7" y="0" font-size="77.2" stroke-width="1.4">Frequency (MHz)</text>
<text class="e" transform="translate(0 213.2)" x="821.6" y="0" font-size="67" stroke-width="0.5">ε</text>
<text class="t" transform="translate(0 208.4) scale(1 0.945)" x="876.7" y="0" font-size="66.6" stroke-width="1.6">=</text>
<text class="t" transform="translate(0 210.9) scale(1 1.0)" x="944.7" y="0" font-size="58.8" stroke-width="1.0">–</text>
<text class="t" transform="translate(0 212.5) scale(1 1.085)" x="1006.7 1050.3 1075.4 1116.3 1158.9 1182.1" y="0" font-size="69.5" stroke-width="1.4">0.15 m</text>
<text class="b" transform="translate(0 368.7) scale(1 1.08)" x="2037.9 2076.2 2108.3 2126.6 2162.8 2198.9 2232.5 2268.3" y="0" font-size="52.2" stroke-width="1.2">T1-Theo.</text>
<text class="b" transform="translate(0 448.7) scale(1 1.08)" x="2037.9 2074.0 2108.3 2126.6 2162.8 2198.9 2232.5 2268.3" y="0" font-size="52.2" stroke-width="1.2">T2-Theo.</text>
<text class="b" transform="translate(0 526.6) scale(1 1.08)" x="2038.6 2081.8 2100.5 2136.8 2172.8 2206.5 2242.2" y="0" font-size="52.2" stroke-width="1.2">R-Theo.</text>
<text class="b" transform="translate(0 604.6) scale(1 1.08)" x="2037.9 2076.2 2108.3 2127.0 2166.5 2200.1 2235.8" y="0" font-size="52.2" stroke-width="1.2">T1-Exp.</text>
<text class="b" transform="translate(0 681.8) scale(1 1.08)" x="2037.9 2074.0 2108.3 2127.0 2166.5 2200.1 2235.8" y="0" font-size="52.2" stroke-width="1.2">T2-Exp.</text>
<text class="b" transform="translate(0 759.3) scale(1 1.08)" x="2038.6 2081.8 2100.7 2140.2 2173.8 2209.5" y="0" font-size="52.2" stroke-width="1.2">R-Exp.</text>
</svg>
</body>
</html>
